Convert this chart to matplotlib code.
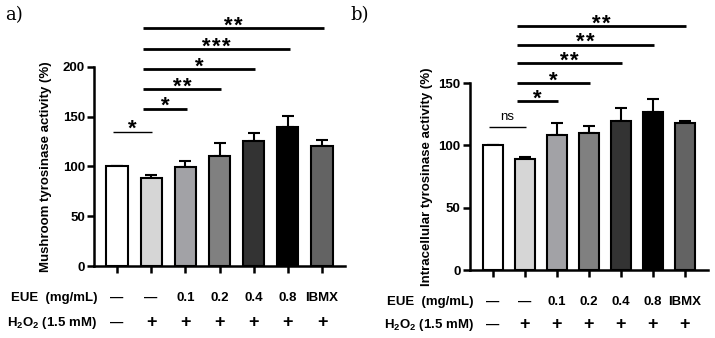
import matplotlib
matplotlib.use("Agg")
import matplotlib.pyplot as plt
import numpy as np

plt.rcParams["font.family"] = ["Liberation Sans", "DejaVu Sans"]
plt.rcParams["font.weight"] = "bold"
plt.rcParams["mathtext.fontset"] = "custom"
plt.rcParams["mathtext.bf"] = "Liberation Sans:bold"
plt.rcParams["mathtext.rm"] = "Liberation Sans:bold"

# data
eue_labels = ["\u2014", "\u2014", "0.1", "0.2", "0.4", "0.8", "IBMX"]
h2o2_labels = ["\u2014", "+", "+", "+", "+", "+", "+"]
bar_colors = ["#ffffff", "#d6d6d6", "#a2a2a6", "#808080", "#333333", "#000000", "#636363"]

mush_vals = [100, 88, 99, 111, 126, 140, 121]
mush_err = [0, 3, 6, 13, 8, 11, 6]
intra_vals = [100, 89, 108, 110, 120, 127, 118]
intra_err = [0, 2, 10, 5.5, 10, 10, 2]

# (group_from, group_to, height, label)
mush_sig = [(0, 1, 135, "*"), (1, 2, 158, "*"), (1, 3, 178, "**"),
            (1, 4, 198, "*"), (1, 5, 218, "***"), (1, 6, 239, "**")]
intra_sig = [(0, 1, 115, "ns"), (1, 2, 135.5, "*"), (1, 3, 150, "*"),
             (1, 4, 166, "**"), (1, 5, 181, "**"), (1, 6, 196, "**")]

fig = plt.figure(figsize=(7.15, 3.38), dpi=100)
ax1 = fig.add_axes([0.1315, 0.213, 0.351, 0.589])
ax2 = fig.add_axes([0.657, 0.201, 0.333, 0.553])

FS = 9.5


def draw_panel(ax, vals, err, sig, ymax, yticks, ylabel, xlim, row_y, lab_x, ylab_x, px_y, px_x):
    x = np.arange(len(vals))
    ax.bar(x, vals, width=0.62, color=bar_colors, edgecolor="black", linewidth=1.5, zorder=2)
    ax.errorbar(x, vals, yerr=[np.zeros(len(err)), err], fmt="none", ecolor="black",
                elinewidth=1.5, capsize=4, capthick=1.5, zorder=1)
    ax.set_ylim(0, ymax)
    ax.set_xlim(*xlim)
    ax.set_yticks(yticks)
    ax.set_xticks(x)
    ax.set_xticklabels([])
    for s in ["top", "right"]:
        ax.spines[s].set_visible(False)
    for s in ["left", "bottom"]:
        ax.spines[s].set_linewidth(1.8)
    ax.tick_params(axis="both", width=1.8, length=5, labelsize=FS, pad=1.5)
    ax.set_ylabel(ylabel, fontsize=FS, fontweight="bold")
    ax.yaxis.set_label_coords(ylab_x, 0.5)

    for a, b, h, lab in sig:
        if lab == "ns" or a == 0:
            x0, x1, lw = a - 0.12, b + 0.04, 1.0
        else:
            x0, x1, lw = a - 0.24, b + 0.05, 2.0
        ax.plot([x0, x1], [h, h], color="black", lw=lw, clip_on=False, solid_capstyle="butt")
        mid = (x0 + x1) / 2
        if lab == "ns":
            ax.text(mid, h + 4 / px_y, lab, ha="center", va="bottom",
                    fontsize=FS, fontweight="normal", clip_on=False)
        else:
            n = len(lab)
            for k in range(n):
                xs = mid + (k - (n - 1) / 2) * 10 / px_x
                ax.text(xs, h - 3.5 / px_y, "*", ha="center", va="baseline",
                        fontsize=16, clip_on=False)

    ax.text(lab_x, row_y[0], "EUE  (mg/mL)", ha="right", va="center", fontsize=FS)
    ax.text(lab_x, row_y[1], r"H$_\mathbf{2}$O$_\mathbf{2}$ (1.5 mM)", ha="right", va="center", fontsize=FS)
    for i in x:
        ax.text(i, row_y[0], eue_labels[i], ha="center", va="center", fontsize=FS)
        ax.text(i, row_y[1], h2o2_labels[i], ha="center", va="center",
                fontsize=FS if h2o2_labels[i] == "\u2014" else 13)


draw_panel(ax1, mush_vals, mush_err, mush_sig, 200, [0, 50, 100, 150, 200],
           "Mushroom tyrosinase activity (%)", (-0.67, 6.67), (-32, -57), -0.58, -0.167, 1.0, 34.2)
draw_panel(ax2, intra_vals, intra_err, intra_sig, 150, [0, 50, 100, 150],
           "Intracellular tyrosinase activity (%)", (-0.72, 6.72), (-25.7, -44), -0.6, -0.155, 1.247, 32.0)

fig.text(0.007, 0.955, "a)", fontsize=13, family="DejaVu Serif", fontweight="normal", va="center")
fig.text(0.49, 0.955, "b)", fontsize=13, family="DejaVu Serif", fontweight="normal", va="center")

fig.savefig("out.png", dpi=100)
